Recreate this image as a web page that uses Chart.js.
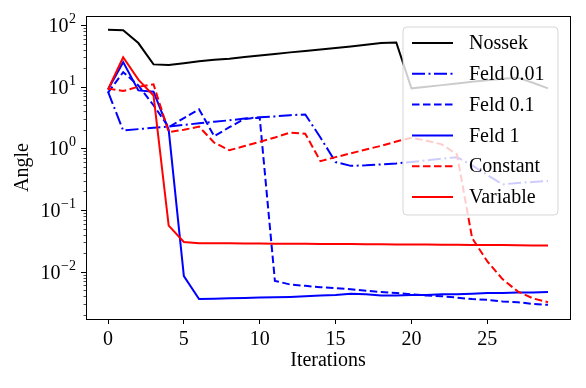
<!DOCTYPE html>
<html>
<head>
<meta charset="utf-8">
<script src="https://cdn.jsdelivr.net/npm/chart.js@4"></script>
<style>
html,body{margin:0;padding:0;background:#fff;}
canvas{display:block;}
</style>
</head>
<body>
<canvas id="c" width="586" height="388"></canvas>
<script>
// ---- data ----
const iterations = [0,1,2,3,4,5,6,7,8,9,10,11,12,13,14,15,16,17,18,19,20,21,22,23,24,25,26,27,28,29];
const nossek   = [84, 82, 51, 23, 22.5, 24, 25.8, 27.4, 28.5, 30.2, 32, 34, 36, 38, 40, 42.5, 45, 48, 51, 52, 9.4, 10, 10.6, 11.3, 12, 12.7, 13.4, 14, 11.6, 9.4];
const feld001  = [8.3, 1.95, 2.05, 2.15, 2.25, 2.4, 2.55, 2.7, 2.85, 3.05, 3.2, 3.3, 3.45, 3.55, 1.5, 0.6, 0.52, 0.53, 0.55, 0.57, 0.6, 0.64, 0.68, 0.72, 0.53, 0.37, 0.26, 0.275, 0.285, 0.295];
const feld01   = [8.0, 17.2, 10.5, 5.0, 2.2, 3.1, 4.3, 1.58, 2.2, 3.0, 3.14, 0.0071, 0.0062, 0.0059, 0.0056, 0.0054, 0.0052, 0.0049, 0.0047, 0.0045, 0.0043, 0.0041, 0.0040, 0.0038, 0.0036, 0.0035, 0.0033, 0.0032, 0.0030, 0.0029];
const feld1    = [9.0, 25, 8.7, 8.3, 2.0, 0.0085, 0.0036, 0.00365, 0.0037, 0.00375, 0.0038, 0.00385, 0.0039, 0.004, 0.0041, 0.0042, 0.0044, 0.0043, 0.0041, 0.0041, 0.0042, 0.0042, 0.0043, 0.0043, 0.0044, 0.0045, 0.0045, 0.0046, 0.0046, 0.0047];
const constant = [9.3, 8.5, 10, 10.9, 1.84, 2.0, 2.25, 1.24, 0.93, 1.09, 1.28, 1.5, 1.8, 1.73, 0.62, 0.72, 0.83, 0.96, 1.1, 1.29, 1.49, 1.33, 1.16, 0.8, 0.035, 0.0147, 0.0076, 0.0048, 0.0037, 0.0032];
const variable = [9.0, 30, 13, 7.2, 0.056, 0.0304, 0.0290, 0.0289, 0.0288, 0.0287, 0.0286, 0.0285, 0.0284, 0.0283, 0.0282, 0.0281, 0.0280, 0.0279, 0.0278, 0.0277, 0.0276, 0.0275, 0.0274, 0.0273, 0.0272, 0.0271, 0.0270, 0.0268, 0.0267, 0.0266];
const seriesNames = ["Nossek", "Feld 0.01", "Feld 0.1", "Feld 1", "Constant", "Variable"];
const xTickValues = [0, 5, 10, 15, 20, 25];
const yTickExponents = [-2, -1, 0, 1, 2];
const xTitle = "Iterations";
const yTitle = "Angle";

// ---- styles ----
const FONT = '"Liberation Serif", "Times New Roman", serif';
const styles = [
  {color:'#000000', dash:[]},
  {color:'#0000ff', dash:[13,3.5,2,3.5]},
  {color:'#0000ff', dash:[7.5,3.5]},
  {color:'#0000ff', dash:[]},
  {color:'#ff0000', dash:[7.5,3.5]},
  {color:'#ff0000', dash:[]}
];
const allSeries = [nossek, feld001, feld01, feld1, constant, variable];

const datasets = allSeries.map((arr, i) => ({
  label: seriesNames[i],
  data: arr.map((v, k) => ({x: iterations[k], y: v})),
  borderColor: styles[i].color,
  backgroundColor: styles[i].color,
  borderDash: styles[i].dash,
  borderWidth: 2,
  pointRadius: 0,
  fill: false,
  tension: 0,
  order: allSeries.length - i
}));

const customPlugin = {
  id: 'custom',
  afterDatasetsDraw(chart) {
    const ctx = chart.ctx;
    // legend box inside the plot
    const bx = 403, by = 27, bw = 155, bh = 188, r = 4;
    ctx.save();
    ctx.beginPath();
    ctx.moveTo(bx + r, by);
    ctx.lineTo(bx + bw - r, by);
    ctx.quadraticCurveTo(bx + bw, by, bx + bw, by + r);
    ctx.lineTo(bx + bw, by + bh - r);
    ctx.quadraticCurveTo(bx + bw, by + bh, bx + bw - r, by + bh);
    ctx.lineTo(bx + r, by + bh);
    ctx.quadraticCurveTo(bx, by + bh, bx, by + bh - r);
    ctx.lineTo(bx, by + r);
    ctx.quadraticCurveTo(bx, by, bx + r, by);
    ctx.closePath();
    ctx.fillStyle = 'rgba(255,255,255,0.8)';
    ctx.fill();
    ctx.strokeStyle = 'rgba(204,204,204,0.8)';
    ctx.lineWidth = 1;
    ctx.stroke();
    chart.data.datasets.forEach((ds, i) => {
      const y = 43 + i * 30.8;
      ctx.beginPath();
      ctx.setLineDash(ds.borderDash || []);
      ctx.strokeStyle = ds.borderColor;
      ctx.lineWidth = 2;
      ctx.moveTo(412, y);
      ctx.lineTo(453, y);
      ctx.stroke();
      ctx.setLineDash([]);
      ctx.fillStyle = '#000';
      ctx.font = '20px ' + FONT;
      ctx.textAlign = 'left';
      ctx.textBaseline = 'middle';
      ctx.fillText(ds.label, 469, y + 1);
    });
    ctx.restore();
  },
  afterDraw(chart) {
    const ctx = chart.ctx;
    const a = chart.chartArea;
    const ys = chart.scales.y;
    ctx.save();
    // frame
    ctx.strokeStyle = '#000';
    ctx.lineWidth = 1;
    ctx.strokeRect(Math.round(a.left) + 0.5, Math.round(a.top) + 0.5, Math.round(a.right - a.left), Math.round(a.bottom - a.top));
    // y ticks (major + minor)
    for (let e = -3; e <= 2; e++) {
      for (let k = 1; k <= 9; k++) {
        const v = k * Math.pow(10, e);
        if (v < ys.min || v > ys.max) continue;
        const py = Math.round(ys.getPixelForValue(v)) + 0.5;
        const len = k === 1 ? 5 : 2.5;
        ctx.beginPath();
        ctx.strokeStyle = '#000';
        ctx.lineWidth = k === 1 ? 1 : 0.7;
        ctx.moveTo(a.left, py);
        ctx.lineTo(a.left - len, py);
        ctx.stroke();
      }
    }
    // y tick labels 10^e
    ctx.fillStyle = '#000';
    ctx.textBaseline = 'alphabetic';
    yTickExponents.forEach(e => {
      const py = ys.getPixelForValue(Math.pow(10, e));
      const expTxt = e < 0 ? '\u2212' + Math.abs(e) : String(e);
      ctx.font = '14px ' + FONT;
      const we = ctx.measureText(expTxt).width;
      const right = a.left - 10;
      ctx.textAlign = 'left';
      ctx.fillText(expTxt, right - we, py - 2);
      ctx.font = '20px ' + FONT;
      ctx.textAlign = 'right';
      ctx.fillText('10', right - we - 0.5, py + 7);
    });
    // axis titles
    ctx.font = '20px ' + FONT;
    ctx.textAlign = 'center';
    ctx.textBaseline = 'middle';
    ctx.fillText(xTitle, (a.left + a.right) / 2, 361);
    ctx.translate(23, (a.top + a.bottom) / 2);
    ctx.rotate(-Math.PI / 2);
    ctx.fillText(yTitle, 0, 0);
    ctx.restore();
  }
};

new Chart(document.getElementById('c'), {
  type: 'line',
  data: { datasets },
  options: {
    responsive: false,
    animation: false,
    devicePixelRatio: 1,
    layout: { padding: { top: 16, right: 16, left: 0, bottom: 0 } },
    plugins: { legend: { display: false }, tooltip: { enabled: false } },
    scales: {
      x: {
        type: 'linear',
        min: -1.45,
        max: 30.45,
        afterBuildTicks: s => { s.ticks = xTickValues.map(v => ({ value: v })); },
        afterFit: s => { s.height = 69; },
        ticks: { color: '#000', font: { family: FONT, size: 20 }, padding: 4, maxRotation: 0, autoSkip: false, callback: v => String(v) },
        grid: { drawOnChartArea: false, tickLength: 5, color: '#000', lineWidth: 1 },
        border: { display: true, color: '#000', width: 1 }
      },
      y: {
        type: 'logarithmic',
        min: 0.00171,
        max: 140,
        afterFit: s => { s.width = 86; },
        ticks: { display: false },
        grid: { display: false },
        border: { display: true, color: '#000', width: 1 }
      }
    }
  },
  plugins: [customPlugin]
});
</script>
</body>
</html>
